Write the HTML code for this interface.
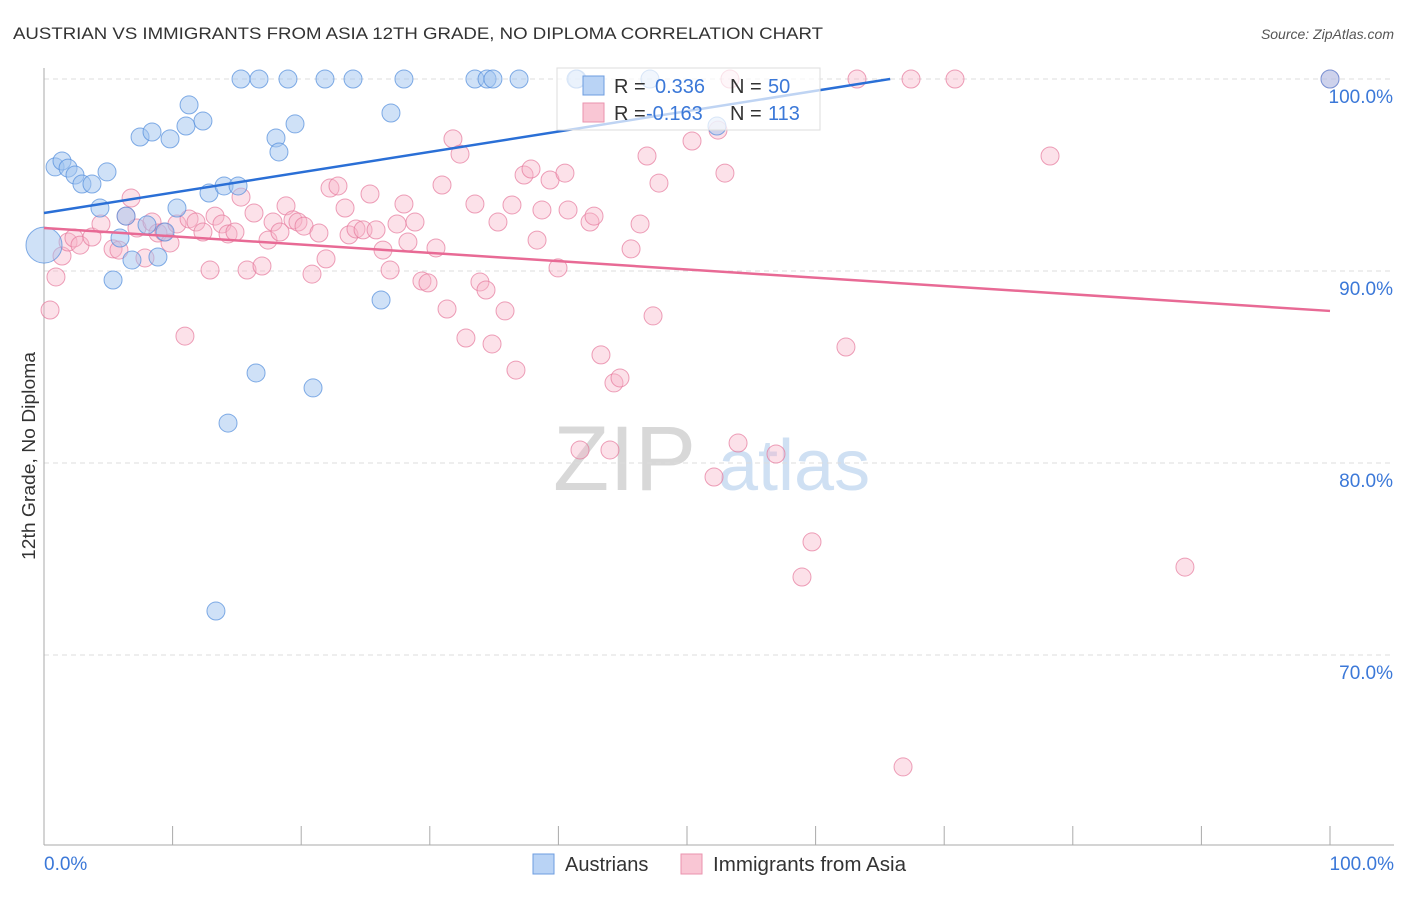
<!DOCTYPE html>
<html><head><meta charset="utf-8"><style>
body{margin:0;background:#fff;font-family:"Liberation Sans",sans-serif;}
svg text{font-family:"Liberation Sans",sans-serif;}
</style></head><body>
<svg id="chart" width="1406" height="892" xmlns="http://www.w3.org/2000/svg">
<text x="13" y="39" font-size="17" fill="#333" textLength="810" lengthAdjust="spacingAndGlyphs">AUSTRIAN VS IMMIGRANTS FROM ASIA 12TH GRADE, NO DIPLOMA CORRELATION CHART</text>
<text x="1394" y="39" font-size="14" fill="#555" text-anchor="end" font-style="italic">Source: ZipAtlas.com</text>
<g>
<text x="553" y="490" font-size="92" fill="#d8d8d8" font-family="Liberation Serif, serif">ZIP</text>
<text x="718" y="490" font-size="72" fill="#cfe0f3">atlas</text>
</g>
<g id="grid"></g>
<g id="axes"></g>
<text transform="translate(35,456) rotate(-90)" font-size="18" fill="#333" text-anchor="middle" textLength="208" lengthAdjust="spacingAndGlyphs">12th Grade, No Diploma</text>
<g id="points"></g>
<g id="trends"></g>
<g>
<rect x="557" y="68" width="263" height="62" fill="rgba(255,255,255,0.7)" stroke="#ddd"/>
<rect x="583" y="76" width="21" height="19" fill="#b9d3f5" stroke="#6d9de0"/>
<rect x="583" y="103" width="21" height="19" fill="#f9c6d4" stroke="#ea93ae"/>
<text x="614" y="93" font-size="20" fill="#333">R = </text><text x="655" y="93" font-size="20" fill="#3b78d8">0.336</text>
<text x="730" y="93" font-size="20" fill="#333">N = </text><text x="768" y="93" font-size="20" fill="#3b78d8">50</text>
<text x="614" y="120" font-size="20" fill="#333">R = </text><text x="646" y="120" font-size="20" fill="#3b78d8">-0.163</text>
<text x="730" y="120" font-size="20" fill="#333">N = </text><text x="768" y="120" font-size="20" fill="#3b78d8">113</text>
</g>
<g>
<rect x="533" y="854" width="21" height="20" fill="#b9d3f5" stroke="#6d9de0"/>
<text x="565" y="871" font-size="20" fill="#333">Austrians</text>
<rect x="681" y="854" width="21" height="20" fill="#f9c6d4" stroke="#ea93ae"/>
<text x="713" y="871" font-size="20" fill="#333" textLength="193" lengthAdjust="spacingAndGlyphs">Immigrants from Asia</text>
</g>
</svg>
<script>
const yTicks=[100,90,80,70];
const yTickLabels=["100.0%","90.0%","80.0%","70.0%"];
const xTicks=[10,20,30,40,50,60,70,80,90,100];
const blueX=[0.86,1.40,1.87,2.41,2.95,3.73,4.9,4.35,6.38,5.91,6.84,5.37,8.01,8.86,9.41,10.34,7.47,8.4,9.8,11.04,11.28,12.36,12.83,14.0,15.09,14.31,16.49,13.37,15.32,16.72,18.97,21.85,24.03,27.99,33.51,34.45,34.91,36.94,18.04,18.27,19.52,26.98,20.92,26.21,41.45,47.12,52.33,100,0,41.37];
const blueY=[95.42,95.73,95.36,95.0,94.53,94.53,95.16,93.28,92.86,91.72,90.57,89.53,92.4,90.73,92.03,93.28,96.98,97.24,96.88,97.55,98.65,97.81,94.06,94.43,94.43,82.08,84.69,72.29,100,100,100,100,100,100,100,100,100,100,96.93,96.2,97.66,98.23,83.91,88.49,100,100,97.55,100,91.35,100];
const pinkX=[0.47,0.93,1.40,1.87,2.33,2.8,3.73,4.43,5.37,5.83,6.38,6.77,7.23,7.85,8.4,8.86,9.33,9.8,10.34,10.96,11.28,11.82,12.36,12.91,13.3,13.84,14.31,14.85,15.32,15.79,16.33,16.95,17.42,17.81,18.35,18.82,19.36,19.75,20.22,20.84,21.38,21.93,22.24,22.86,23.41,23.72,24.26,24.81,25.35,25.82,26.36,26.91,27.45,27.99,28.3,28.85,29.39,29.86,30.48,30.95,31.34,31.8,32.35,32.81,33.51,33.9,34.37,34.84,35.3,35.85,36.39,36.7,37.33,37.87,38.34,38.72,39.35,39.97,40.51,40.75,41.68,42.46,42.77,43.31,44.01,44.32,44.79,45.65,46.35,46.89,47.36,47.82,50.39,52.1,52.41,52.95,53.34,53.97,56.92,58.94,59.72,62.36,63.22,67.42,70.84,78.23,88.72,66.8,100];
const pinkY=[87.97,89.69,90.78,91.51,91.72,91.35,91.77,92.45,91.15,91.09,92.86,93.8,92.24,90.68,92.55,91.98,92.03,91.46,92.45,86.61,92.71,92.55,92.03,90.05,92.86,92.45,91.93,92.03,93.85,90.05,93.02,90.26,91.61,92.55,92.03,93.39,92.66,92.55,92.34,89.84,91.98,90.63,94.32,94.43,93.28,91.88,92.19,92.14,94.01,92.14,91.09,90.05,92.45,93.49,91.51,92.55,89.48,89.38,91.2,94.48,88.02,96.88,96.09,86.51,93.49,89.43,89.01,86.2,92.55,87.92,93.44,84.84,95.0,95.31,91.61,93.18,94.74,90.16,95.1,93.18,80.68,92.55,92.86,85.63,80.68,84.17,84.43,91.15,92.45,95.99,87.66,94.58,96.77,79.27,97.34,95.1,100,81.04,80.47,74.06,75.89,86.04,100,100,100,95.99,74.58,64.17,100];
const blueTrendX=[0,65.8];
const blueTrendY=[93.02,100];
const pinkTrendX=[0,100];
const pinkTrendY=[92.24,87.92];

const NS="http://www.w3.org/2000/svg";
const xs=v=>44+v*12.86;
const ys=v=>79+(100-v)*19.2;
function mk(tag,parent,attrs){const e=document.createElementNS(NS,tag);for(const k in attrs)e.setAttribute(k,attrs[k]);document.getElementById(parent).appendChild(e);return e;}
yTicks.forEach((t,i)=>{
 const l=mk('line','grid',{x1:44,x2:1394,y1:ys(t),y2:ys(t),stroke:'#ddd','stroke-dasharray':'5,4'});
 
 
 const tx=mk('text','grid',{x:1393,y:ys(t)+24,'font-size':19,fill:'#3b78d8','text-anchor':'end'});
 tx.textContent=yTickLabels[i];
 
 
});
let a=mk('line','axes',{x1:44,x2:44,y1:68,y2:845,stroke:'#aaa'});


a=mk('line','axes',{x1:44,x2:1394,y1:845,y2:845,stroke:'#aaa'});


xTicks.forEach(t=>{const l=mk('line','axes',{x1:xs(t),x2:xs(t),y1:826,y2:845,stroke:'#aaa'});
 
 });
let t0=mk('text','axes',{x:44,y:870,'font-size':19,fill:'#3b78d8'});t0.textContent='0.0%';


let t1=mk('text','axes',{x:1394,y:870,'font-size':19,fill:'#3b78d8','text-anchor':'end'});t1.textContent='100.0%';


pinkX.forEach((x,i)=>{const c=mk('circle','points',{cx:xs(x),cy:ys(pinkY[i]),r:9,fill:'rgba(248,180,200,0.4)',stroke:'rgba(230,120,155,0.7)','stroke-width':1});
 
 });
blueX.forEach((x,i)=>{const c=mk('circle','points',{cx:xs(x),cy:ys(blueY[i]),r:(i==48?18:9),fill:'rgba(160,196,240,0.5)',stroke:'rgba(80,140,220,0.7)','stroke-width':1});
 
 });
let bt=mk('line','trends',{x1:xs(blueTrendX[0]),y1:ys(blueTrendY[0]),x2:xs(blueTrendX[1]),y2:ys(blueTrendY[1]),stroke:'#2a6fd6','stroke-width':2.5});


let pt=mk('line','trends',{x1:xs(pinkTrendX[0]),y1:ys(pinkTrendY[0]),x2:xs(pinkTrendX[1]),y2:ys(pinkTrendY[1]),stroke:'#e86a95','stroke-width':2.5});


</script>
</body></html>
